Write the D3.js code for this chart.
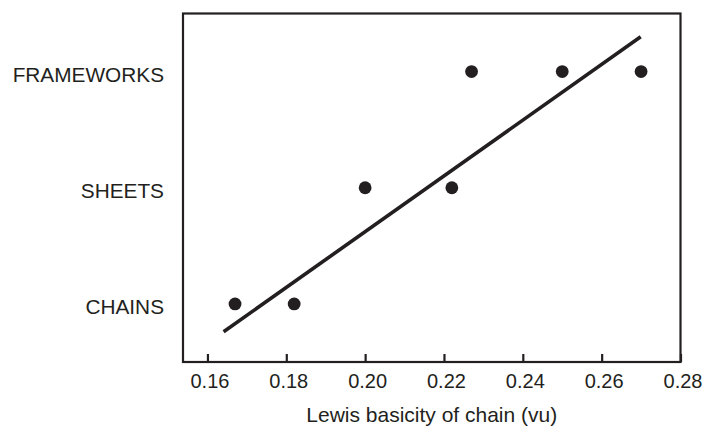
<!DOCTYPE html>
<html>
<head>
<meta charset="utf-8">
<script src="https://cdn.jsdelivr.net/npm/d3@7"></script>
<style>
  html, body { margin: 0; padding: 0; background: #fff; }
  svg { display: block; }
</style>
</head>
<body>
<svg id="chart" width="709" height="428"></svg>
<script>
// ---- data ----
const categories = ["CHAINS", "SHEETS", "FRAMEWORKS"];
const pointX = [0.167, 0.182, 0.200, 0.222, 0.227, 0.250, 0.270];
const pointCat = ["CHAINS", "CHAINS", "SHEETS", "SHEETS", "FRAMEWORKS", "FRAMEWORKS", "FRAMEWORKS"];
const lineX = [0.1641, 0.2699];
const lineY = [0.76, 3.30];
const xTicks = [0.16, 0.18, 0.20, 0.22, 0.24, 0.26, 0.28];
const xTitle = "Lewis basicity of chain (vu)";

// ---- layout ----
const plotL = 183, plotR = 680.5, plotT = 13.5, plotB = 362;
const ink = "#231f20";
const svg = d3.select("#chart");

const x = d3.scaleLinear().domain([0.1538, 0.2800]).range([plotL, plotR]);
const y = d3.scaleLinear().domain([0.5, 3.5]).range([plotB, plotT]);
const catIndex = c => categories.indexOf(c) + 1;

// frame
svg.append("rect")
  .attr("x", plotL).attr("y", plotT)
  .attr("width", plotR - plotL).attr("height", plotB - plotT)
  .attr("fill", "none").attr("stroke", ink).attr("stroke-width", 2.2);

// bottom axis: inward ticks
const xAxis = d3.axisBottom(x).tickValues(xTicks)
  .tickSizeInner(-8).tickSizeOuter(0).tickPadding(11.5)
  .tickFormat(d3.format(".2f"));
const gx = svg.append("g").attr("transform", `translate(0,${plotB})`).call(xAxis);
gx.select(".domain").remove();
gx.selectAll(".tick line").attr("stroke", ink).attr("stroke-width", 2.2);
gx.selectAll(".tick text")
  .attr("fill", ink)
  .attr("font-family", "Liberation Sans, Arial, sans-serif")
  .attr("font-size", 20)
  .attr("dy", "0.71em")
  .attr("dx", 2);

// x title
svg.append("text")
  .attr("x", (plotL + plotR) / 2).attr("y", 421.5)
  .attr("text-anchor", "middle")
  .attr("fill", ink)
  .attr("font-family", "Liberation Sans, Arial, sans-serif")
  .attr("font-size", 21)
  .text(xTitle);

// category labels
svg.append("g").selectAll("text").data(categories).join("text")
  .attr("x", 164)
  .attr("y", d => y(catIndex(d)) + 10.3)
  .attr("text-anchor", "end")
  .attr("fill", ink)
  .attr("font-family", "Liberation Sans, Arial, sans-serif")
  .attr("font-size", 20.8)
  .text(d => d);

// fitted line
const lineData = lineX.map((v, i) => [v, lineY[i]]);
svg.append("path")
  .datum(lineData)
  .attr("d", d3.line().x(d => x(d[0])).y(d => y(d[1])))
  .attr("fill", "none").attr("stroke", ink).attr("stroke-width", 3.6);

// points
svg.append("g").selectAll("circle").data(pointX).join("circle")
  .attr("cx", d => x(d))
  .attr("cy", (d, i) => y(catIndex(pointCat[i])))
  .attr("r", 6.4)
  .attr("fill", ink);
</script>
</body>
</html>
